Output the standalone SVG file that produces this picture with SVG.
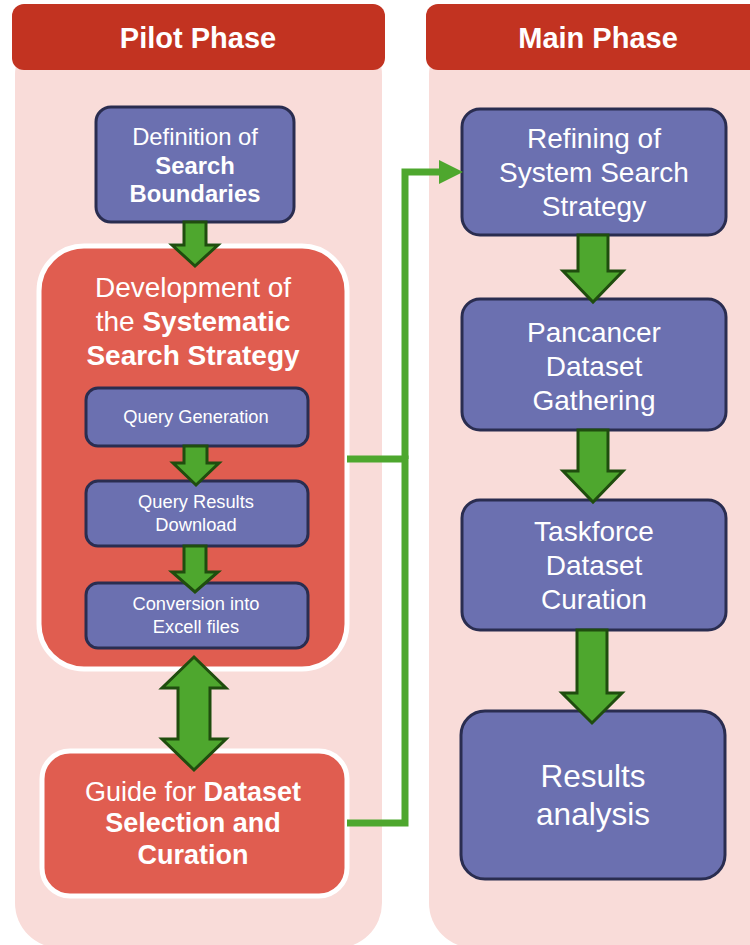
<svg xmlns="http://www.w3.org/2000/svg" width="750" height="945" viewBox="0 0 750 945">
<style>
text{font-family:"Liberation Sans",Arial,sans-serif;fill:#ffffff;text-anchor:middle}
.b{font-weight:bold}
.hdr{fill:#c23321}
.panel{fill:#f9dcd9}
.blue{fill:#6b70b0;stroke:#2a2d50;stroke-width:3}
.red{fill:#e05d50;stroke:#ffffff;stroke-width:5}
.arw{fill:#4ea72e;stroke:#1f4d0e;stroke-width:3;stroke-linejoin:miter}
.conn{fill:none;stroke:#4ea72e;stroke-width:7}
</style>
<rect width="750" height="945" fill="#ffffff"/>
<g id="pilot-phase">
<rect class="panel" x="15" y="30" width="367" height="918" rx="45"/>
<rect class="hdr" x="12" y="4" width="373" height="66" rx="12"/>
<text class="b" x="198" y="48" font-size="29">Pilot Phase</text>
</g>
<g id="main-phase">
<rect class="panel" x="429" y="30" width="360" height="918" rx="45"/>
<rect class="hdr" x="426" y="4" width="360" height="66" rx="12"/>
<text class="b" x="598" y="48" font-size="29">Main Phase</text>
</g>
<g id="definition">
<rect class="blue" x="96" y="107" width="198" height="115" rx="15"/>
<text x="195" y="145" font-size="23.8">Definition of</text>
<text class="b" x="195" y="174" font-size="23.8">Search</text>
<text class="b" x="195" y="202" font-size="23.8">Boundaries</text>
</g>
<g id="development">
<rect class="red" x="39" y="246" width="308" height="423" rx="45"/>
<text x="193" y="297" font-size="28">Development of</text>
<text x="193" y="331" font-size="28">the <tspan class="b">Systematic</tspan></text>
<text class="b" x="193" y="365" font-size="28">Search Strategy</text>
</g>
<g id="query-generation">
<rect class="blue" x="86" y="388" width="222" height="58" rx="12"/>
<text x="196" y="423" font-size="18.3">Query Generation</text>
</g>
<g id="query-results">
<rect class="blue" x="86" y="481" width="222" height="65" rx="12"/>
<text x="196" y="508" font-size="18.3">Query Results</text>
<text x="196" y="531" font-size="18.3">Download</text>
</g>
<g id="conversion">
<rect class="blue" x="86" y="583" width="222" height="65" rx="12"/>
<text x="196" y="610" font-size="18.3">Conversion into</text>
<text x="196" y="633" font-size="18.3">Excell files</text>
</g>
<g id="guide">
<rect class="red" x="42" y="751" width="305" height="145" rx="28"/>
<text x="193" y="801" font-size="27">Guide for <tspan class="b">Dataset</tspan></text>
<text class="b" x="193" y="832" font-size="27">Selection and</text>
<text class="b" x="193" y="864" font-size="27">Curation</text>
</g>
<g id="refining">
<rect class="blue" x="462" y="109" width="264" height="126" rx="18"/>
<text x="594" y="148" font-size="28">Refining of</text>
<text x="594" y="182" font-size="28">System Search</text>
<text x="594" y="216" font-size="28">Strategy</text>
</g>
<g id="pancancer">
<rect class="blue" x="462" y="299" width="264" height="131" rx="18"/>
<text x="594" y="342" font-size="28">Pancancer</text>
<text x="594" y="376" font-size="28">Dataset</text>
<text x="594" y="410" font-size="28">Gathering</text>
</g>
<g id="taskforce">
<rect class="blue" x="462" y="500" width="264" height="130" rx="18"/>
<text x="594" y="541" font-size="28">Taskforce</text>
<text x="594" y="575" font-size="28">Dataset</text>
<text x="594" y="609" font-size="28">Curation</text>
</g>
<g id="results">
<rect class="blue" x="461" y="711" width="264" height="168" rx="24"/>
<text x="593" y="787" font-size="31.5">Results</text>
<text x="593" y="825" font-size="31.5">analysis</text>
</g>
<g id="connectors">
<path class="conn" d="M347 459 H405 V823 H347"/>
<path class="conn" d="M405 459 V172 H441"/>
<polygon fill="#4ea72e" points="439,160 463,172 439,184"/>
<polygon class="arw" points="184,222 206,222 206,245 218,245 195,266 172,245 184,245"/>
<polygon class="arw" points="184,446 207,446 207,463 219,463 196,485 173,463 184,463"/>
<polygon class="arw" points="184,546 206,546 206,572 218,572 195,592 172,572 184,572"/>
<polygon class="arw" points="178,688 162,688 194,657 226,688 210,688 210,739 226,739 194,770 162,739 178,739"/>
<polygon class="arw" points="578,235 608,235 608,271 623,271 593,302 563,271 578,271"/>
<polygon class="arw" points="578,430 608,430 608,471 623,471 593,502 563,471 578,471"/>
<polygon class="arw" points="577,630 607,630 607,693 622,693 592,723 562,693 577,693"/>
</g>
</svg>
